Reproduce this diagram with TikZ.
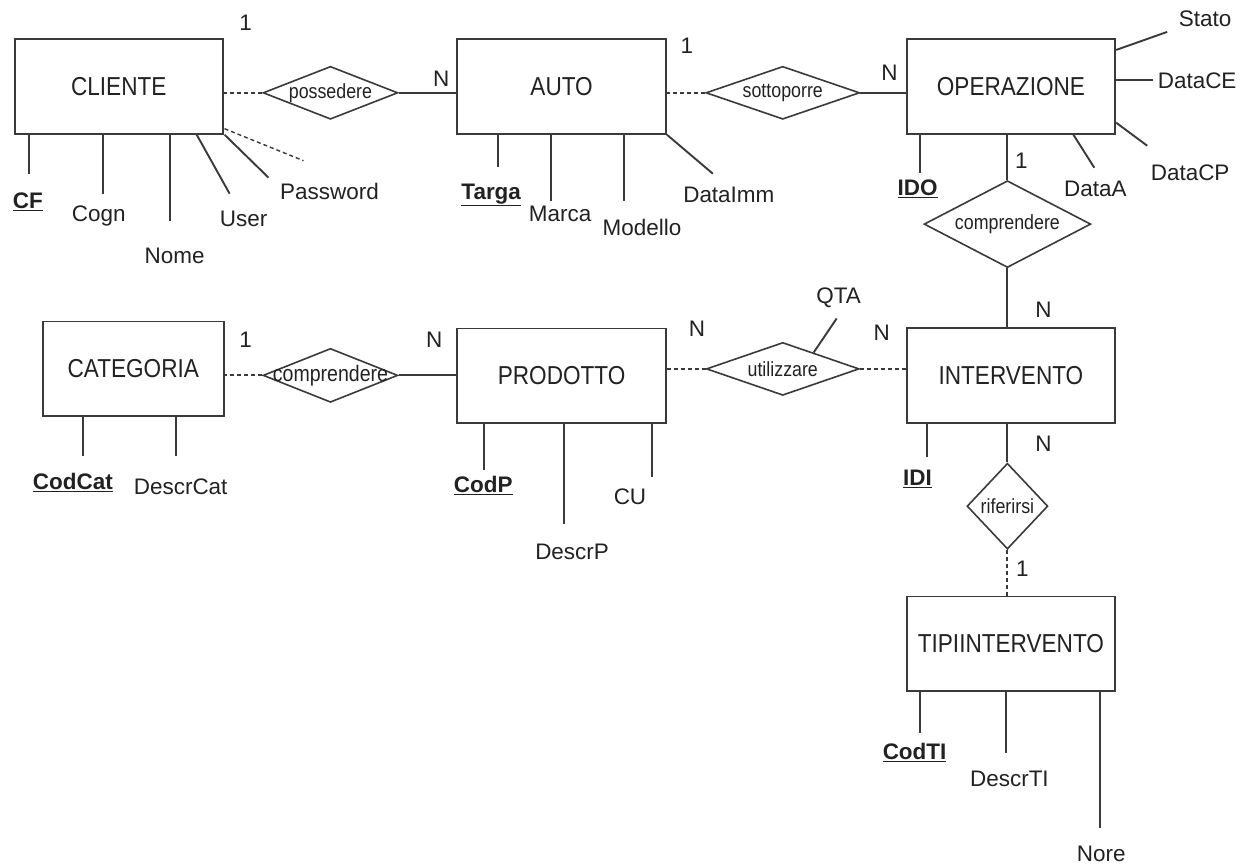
\documentclass[tikz,border=0pt]{standalone}
\usepackage{fontspec}
\setmainfont{Liberation Sans}
\newfontfamily\narrowf{Liberation Sans}[FakeStretch=0.87]
\usetikzlibrary{shapes.geometric,calc}
\definecolor{ln}{HTML}{3A3A3A}
\definecolor{tx}{HTML}{222222}
\begin{document}
\begin{tikzpicture}[x=1pt,y=-1pt,
  every path/.style={line width=1.9pt, draw=ln},
  ent/.style={draw=ln, line width=1.9pt, rectangle, inner sep=0pt, minimum height=95pt, minimum width=209pt, text=tx, font=\narrowf\fontsize{26}{30}\selectfont},
  rel/.style={draw=ln, line width=1.6pt, diamond, inner sep=0pt},
  rlbl/.style={text=tx, font=\narrowf\fontsize{20.5}{24}\selectfont, inner sep=0pt},
  attr/.style={text=tx, font=\fontsize{22.5}{26}\selectfont, inner sep=0pt},
  key/.style={attr, font=\fontsize{22.5}{26}\selectfont\bfseries},
  card/.style={text=tx, font=\fontsize{22.5}{26}\selectfont, inner sep=0pt},
  dsh/.style={dash pattern=on 4pt off 3pt}]
\useasboundingbox (0,0) rectangle (1247,865);
\fill[white] (0,0) rectangle (1247,865);

% entities
\node[ent, minimum width=208pt] (CLI) at (118,85.5) {CLIENTE};
\node[ent] (AUTO) at (561.5,85.5) {AUTO};
\node[ent] (OPE) at (1011.5,85.5) {OPERAZIONE};
\node[ent, minimum width=181pt] (CAT) at (132.5,368.5) {CATEGORIA};
\node[ent] (PRO) at (561.5,375.5) {PRODOTTO};
\node[ent] (INT) at (1011.5,375) {INTERVENTO};
\node[ent] (TIP) at (1011.5,644) {TIPIINTERVENTO};

% relationships
\node[rel, minimum width=135pt, minimum height=53pt, label={[rlbl]center:possedere}] (pos) at (330,92) {};
\node[rel, minimum width=154pt, minimum height=53pt, label={[rlbl]center:sottoporre}] (sot) at (783,92) {};
\node[rel, minimum width=167pt, minimum height=87pt, label={[rlbl]center:comprendere}] (com1) at (1008,223.5) {};
\node[rel, minimum width=135pt, minimum height=54pt, label={[rlbl, font=\narrowf\fontsize{22.5}{26}\selectfont]center:comprendere}] (com2) at (330,375) {};
\node[rel, minimum width=153pt, minimum height=53pt, label={[rlbl]center:utilizzare}] (uti) at (783,368.5) {};
\node[rel, minimum width=81pt, minimum height=86pt, label={[rlbl]center:riferirsi}] (rif) at (1008,506) {};

% relationship connectors
\draw[dsh] (pos.west) -- (pos.west -| CLI.east);
\draw (pos.east) -- (pos.east -| AUTO.west);
\draw[dsh] (sot.west) -- (sot.west -| AUTO.east);
\draw (sot.east) -- (sot.east -| OPE.west);
\draw (com1.north) -- (com1.north |- OPE.south);
\draw (com1.south) -- (com1.south |- INT.north);
\draw[dsh] (com2.west) -- (com2.west -| CAT.east);
\draw (com2.east) -- (com2.east -| PRO.west);
\draw[dsh] (uti.west) -- (uti.west -| PRO.east);
\draw[dsh] (uti.east) -- (uti.east -| INT.west);
\draw (rif.north) -- (rif.north |- INT.south);
\draw[dsh] (rif.south) -- (rif.south |- TIP.north);

% cardinalities
\node[card] (c1) at (245,22) {1};
\node[card] (c2) at (441,78) {N};
\node[card] (c3) at (687,45) {1};
\node[card] (c4) at (890,72) {N};
\node[card] (c5) at (1022,160) {1};
\node[card] (c6) at (1044,309) {N};
\node[card] (c7) at (882,332) {N};
\node[card] (c8) at (1044,443) {N};
\node[card] (c9) at (1023,569) {1};
\node[card] (c10) at (245,339) {1};
\node[card] (c11) at (434,339) {N};
\node[card] (c12) at (697,328) {N};

% CLIENTE attributes
\node[key] (tCF) at (27,201) {\underline{CF}};
\node[attr] (tCogn) at (98,215) {Cogn};
\node[attr] (tNome) at (174,255) {Nome};
\node[attr] (tUser) at (243,218) {User};
\node[attr] (tPwd) at (329,191) {Password};
\coordinate (aCF) at (28,173);
\coordinate (aCogn) at (102,193);
\coordinate (aNome) at (169,220);
\coordinate (aUser) at (229,193);
\coordinate (aPwd) at (268,177);
\coordinate (aDash) at (303,160);
\draw (aCF |- CLI.south) -- (aCF);
\draw (aCogn |- CLI.south) -- (aCogn);
\draw (aNome |- CLI.south) -- (aNome);
\draw ($(CLI.south west)+(183,0)$) -- (aUser);
\draw ($(CLI.south east)+(1,0)$) -- (aPwd);
\draw[dsh, line width=1.4pt] ($(CLI.south east)+(1,-6)$) -- (aDash);

% AUTO attributes
\node[key] (tTarga) at (491,194) {\underline{Targa}};
\node[attr] (tMarca) at (560,213) {Marca};
\node[attr] (tModello) at (642,227) {Modello};
\node[attr] (tDataImm) at (729,194) {DataImm};
\coordinate (aTarga) at (498,166);
\coordinate (aMarca) at (551,200);
\coordinate (aModello) at (624,200);
\coordinate (aDataImm) at (713,173);
\draw (aTarga |- AUTO.south) -- (aTarga);
\draw (aMarca |- AUTO.south) -- (aMarca);
\draw (aModello |- AUTO.south) -- (aModello);
\draw (AUTO.south east) -- (aDataImm);

% OPERAZIONE attributes
\node[attr] (tStato) at (1206,18) {Stato};
\node[attr] (tDataCE) at (1198,80) {DataCE};
\node[attr] (tDataCP) at (1191,172) {DataCP};
\node[attr] (tDataA) at (1096,188) {DataA};
\node[key] (tIDO) at (918,188) {\underline{IDO}};
\coordinate (aStato) at (1168,31);
\coordinate (aDataCE) at (1154,79);
\coordinate (aDataCP) at (1148,145);
\coordinate (aDataA) at (1095,167);
\coordinate (aIDO) at (920,172);
\draw ($(OPE.north east)+(0,12)$) -- (aStato);
\draw (aDataCE -| OPE.east) -- (aDataCE);
\draw ($(OPE.south east)+(0,-12)$) -- (aDataCP);
\draw ($(OPE.south west)+(168,0)$) -- (aDataA);
\draw (aIDO |- OPE.south) -- (aIDO);

% CATEGORIA attributes
\node[key] (tCodCat) at (72,482) {\underline{CodCat}};
\node[attr] (tDescrCat) at (180,487) {DescrCat};
\coordinate (aCodCat) at (82,456);
\coordinate (aDescrCat) at (175,456);
\draw (aCodCat |- CAT.south) -- (aCodCat);
\draw (aDescrCat |- CAT.south) -- (aDescrCat);

% PRODOTTO attributes
\node[key] (tCodP) at (483,485) {\underline{CodP}};
\node[attr] (tDescrP) at (572,552) {DescrP};
\node[attr] (tCU) at (630,497) {CU};
\node[attr] (tQTA) at (839,297) {QTA};
\coordinate (aCodP) at (484,470);
\coordinate (aDescrP) at (564,524);
\coordinate (aCU) at (652,477);
\coordinate (aQTA) at (837,318);
\draw (aCodP |- PRO.south) -- (aCodP);
\draw (aDescrP |- PRO.south) -- (aDescrP);
\draw (aCU |- PRO.south) -- (aCU);
\draw ($(uti.north)!0.4!(uti.east)$) -- (aQTA);

% INTERVENTO attributes
\node[key] (tIDI) at (918,479) {\underline{IDI}};
\coordinate (aIDI) at (927,457);
\draw (aIDI |- INT.south) -- (aIDI);

% TIPIINTERVENTO attributes
\node[key] (tCodTI) at (915,753) {\underline{CodTI}};
\node[attr] (tDescrTI) at (1010,779) {DescrTI};
\node[attr] (tNore) at (1102,854) {Nore};
\coordinate (aCodTI) at (920,733);
\coordinate (aDescrTI) at (1007,753);
\coordinate (aNore) at (1101,828);
\draw (aCodTI |- TIP.south) -- (aCodTI);
\draw (aDescrTI |- TIP.south) -- (aDescrTI);
\draw (aNore |- TIP.south) -- (aNore);
\end{tikzpicture}
\end{document}
